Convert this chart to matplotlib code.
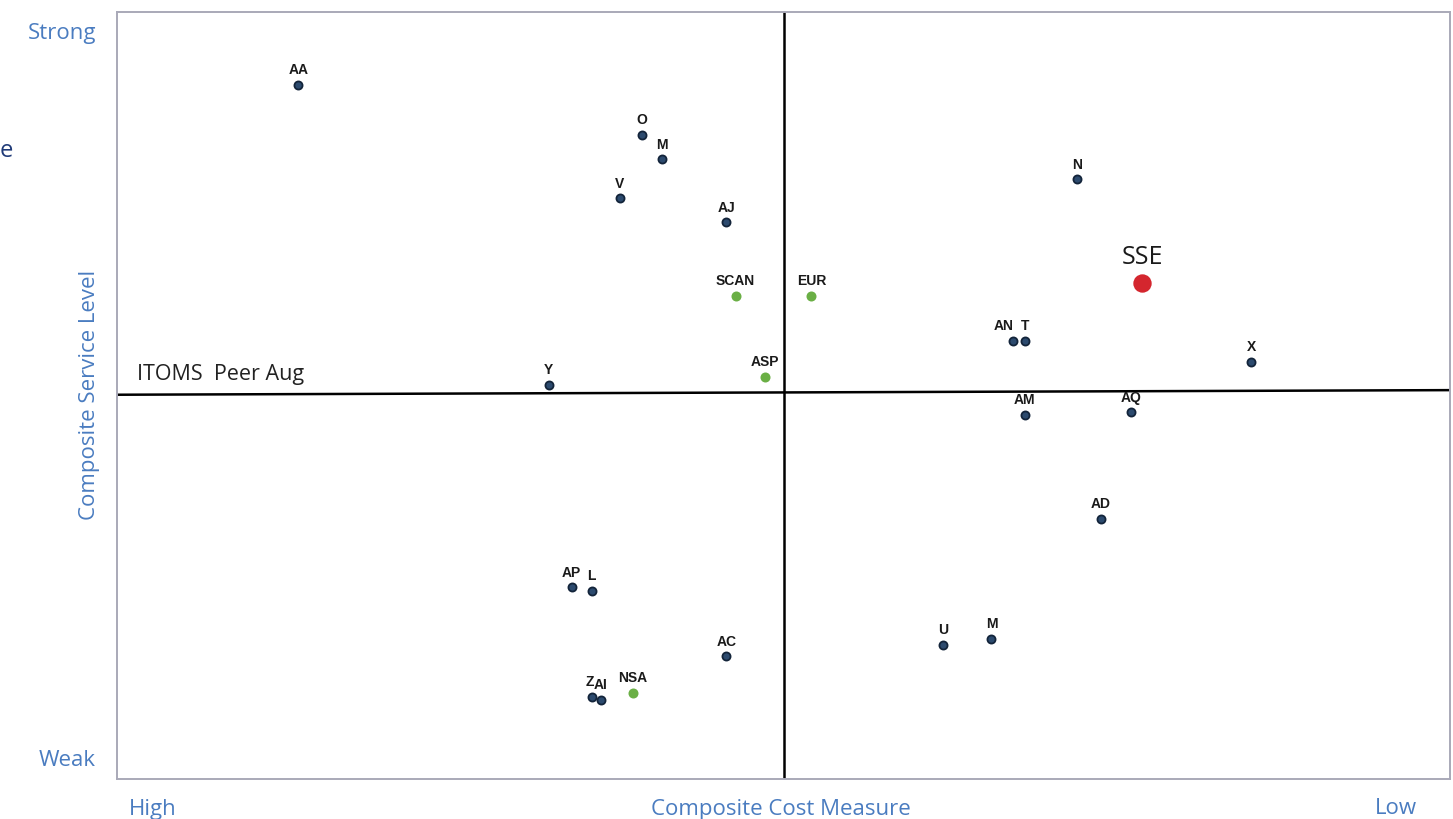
import matplotlib.pyplot as plt

# peer positions: cost measure (0 = high, 100 = low), service level (0 = weak, 100 = strong)
peers = ['AA', 'O', 'M', 'V', 'AJ', 'Y', 'N', 'AN', 'T', 'X', 'AM', 'AQ', 'AD',
         'AP', 'L', 'AC', 'U', 'M', 'Z', 'AI']
peer_cost = [13.6, 39.4, 40.9, 37.7, 45.7, 32.4, 72.0, 67.2, 68.1, 85.1, 68.1, 76.1, 73.8,
             34.1, 35.6, 45.7, 62.0, 65.6, 35.6, 36.3]
peer_service = [90.5, 84.0, 80.8, 75.7, 72.6, 51.4, 78.2, 57.1, 57.1, 54.4, 47.5, 47.8, 33.9,
                25.0, 24.5, 16.0, 17.5, 18.3, 10.7, 10.3]

regions = ['SCAN', 'EUR', 'ASP', 'NSA']
region_cost = [46.4, 52.1, 48.6, 38.7]
region_service = [63.0, 63.0, 52.4, 11.2]

sse_cost = 76.9
sse_service = 64.7

divider_cost = 50.0
divider_service = [50.1, 50.7]  # average line, left and right ends

label_shift = {'AN': -0.7, 'Z': -0.1}

blue = '#4a7cc0'

fig = plt.figure(figsize=(14.53, 8.19), dpi=100)
ax = fig.add_axes([117 / 1453, 40 / 819, 1333 / 1453, 767 / 819])
ax.set_xlim(0, 100)
ax.set_ylim(0, 100)
ax.set_xticks([])
ax.set_yticks([])
for s in ax.spines.values():
    s.set_color('#a9a9b8')
    s.set_linewidth(1.4)

# quadrant dividers
ax.plot([divider_cost, divider_cost], [0, 100], color='black', lw=1.8, zorder=1)
ax.plot([0, 100], divider_service, color='black', lw=1.8, zorder=1)
ax.text(1.5, 51.4, 'ITOMS  Peer Aug', fontsize=15.5, family='Open Sans',
        color='#222222', va='bottom', ha='left')

ax.scatter(peer_cost, peer_service, s=34, color='#2c4a6e', edgecolor='#13243a',
           linewidth=1.3, zorder=3)
for name, x, y in zip(peers, peer_cost, peer_service):
    ax.annotate(name, (x + label_shift.get(name, 0), y), xytext=(0, 5.5),
                textcoords='offset points', ha='center', va='bottom',
                fontsize=10, fontweight='bold', family='Liberation Sans', color='#1a1a1a')

ax.scatter(region_cost, region_service, s=52, color='#6aaf45', linewidth=0, zorder=3)
for name, x, y in zip(regions, region_cost, region_service):
    ax.annotate(name, (x, y), xytext=(0, 5.5), textcoords='offset points',
                ha='center', va='bottom', fontsize=10, fontweight='bold',
                family='Liberation Sans', color='#1a1a1a')

ax.scatter([sse_cost], [sse_service], s=175, color='#d4262e', linewidth=0, zorder=4)
ax.annotate('SSE', (sse_cost, sse_service), xytext=(0, 9), textcoords='offset points',
            ha='center', va='bottom', fontsize=18, family='Open Sans', color='#1a1a1a')

# axis captions
fig.text(62 / 1453, 1 - 34 / 819, 'Strong', fontsize=16, family='Open Sans',
         color=blue, ha='center', va='center')
fig.text(67 / 1453, 1 - 761 / 819, 'Weak', fontsize=16, family='Open Sans',
         color=blue, ha='center', va='center')
fig.text(89 / 1453, 1 - 395 / 819, 'Composite Service Level', fontsize=16,
         family='Open Sans', color=blue, ha='center', va='center', rotation=90)
fig.text(153 / 1453, 1 - 809 / 819, 'High', fontsize=16, family='Open Sans',
         color=blue, ha='center', va='center')
fig.text(781 / 1453, 1 - 809 / 819, 'Composite Cost Measure', fontsize=16,
         family='Open Sans', color=blue, ha='center', va='center')
fig.text(1396 / 1453, 1 - 809 / 819, 'Low', fontsize=16, family='Open Sans',
         color=blue, ha='center', va='center')
fig.text(0, 1 - 151 / 819, 'e', fontsize=17, family='Open Sans',
         color='#1f3a78', ha='left', va='center')

fig.savefig('out.png', dpi=100)
